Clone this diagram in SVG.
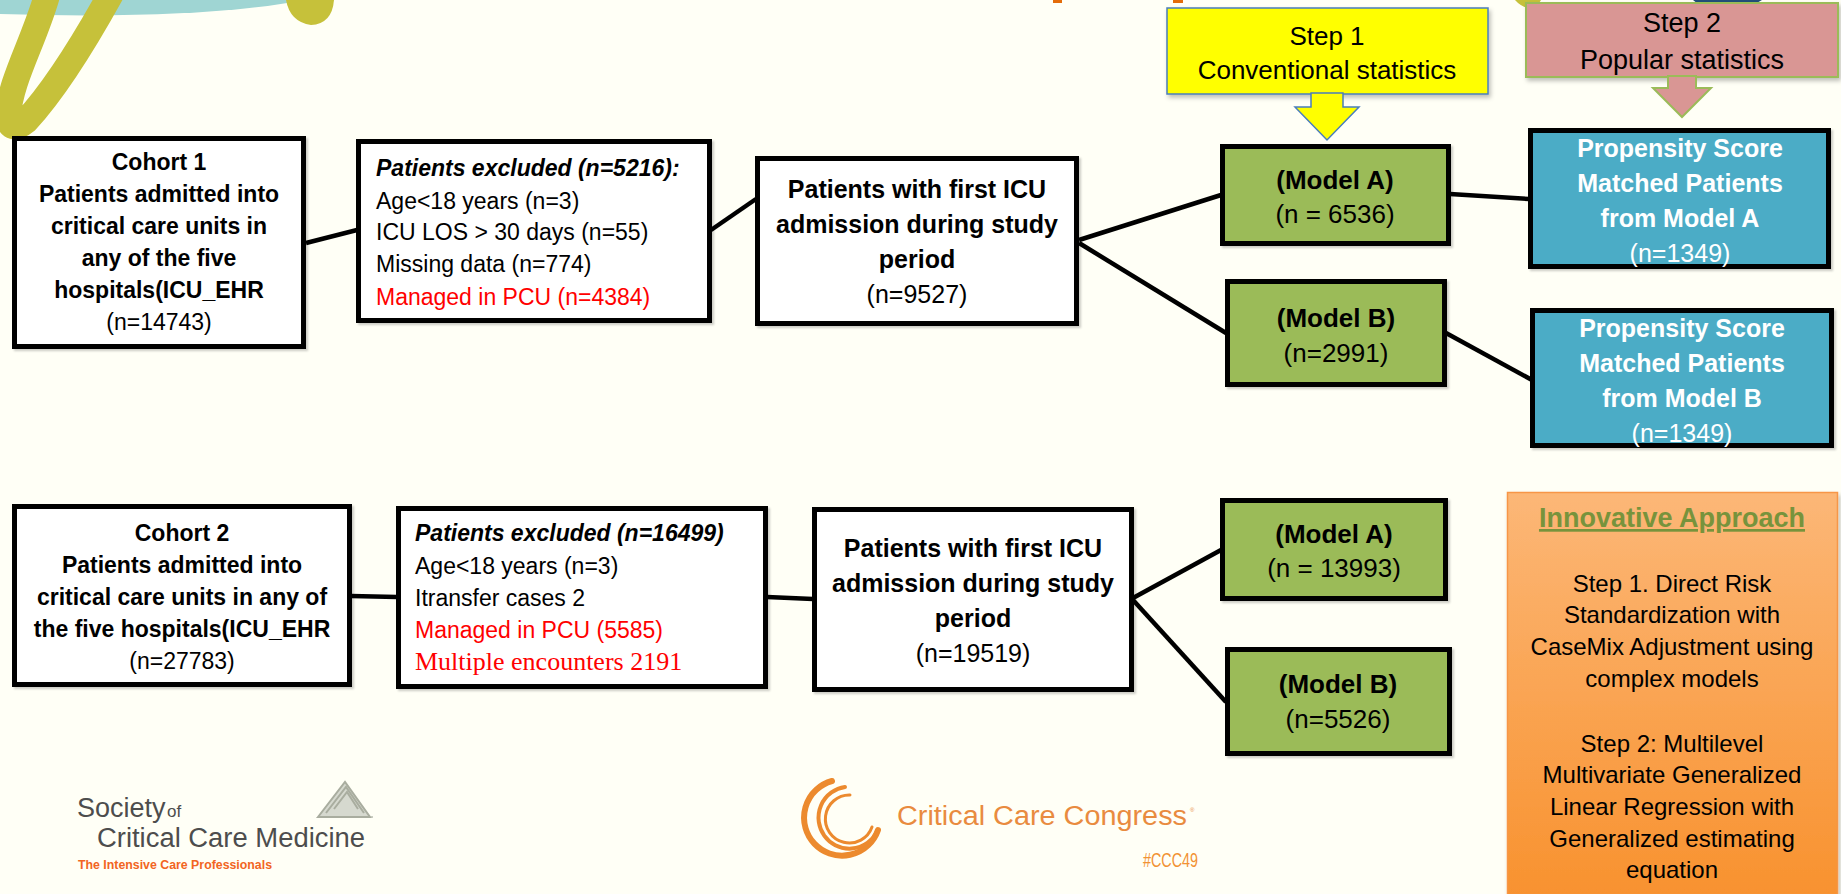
<svg xmlns="http://www.w3.org/2000/svg" width="1841" height="894" viewBox="0 0 1841 894">
<style>
text{font-family:"Liberation Sans",Arial,sans-serif;}
.box{fill:#ffffff;stroke:#000;stroke-width:5;}
.grn{fill:#9bbb59;stroke:#000;stroke-width:5;}
.blu{fill:#4bacc6;stroke:#000;stroke-width:5;}
.conn{stroke:#000;stroke-width:4.5;fill:none;stroke-linecap:butt;}
.b{font-weight:bold;}
.t23{font-size:23px;}
.t25{font-size:25px;}
.t26{font-size:26px;}
.mid{text-anchor:middle;}
.red{fill:#ff0000;}
.wht{fill:#ffffff;}
.inn{font-size:24px;fill:#000;text-anchor:middle;}
</style>
<defs>
<linearGradient id="og" x1="0" y1="0" x2="0" y2="1">
<stop offset="0" stop-color="#fcb777"/>
<stop offset="1" stop-color="#f8922f"/>
</linearGradient>
<filter id="sh" x="-5%" y="-5%" width="115%" height="120%">
<feDropShadow dx="2" dy="3" stdDeviation="2" flood-color="#000" flood-opacity="0.25"/>
</filter>
<filter id="bs" x="-5%" y="-5%" width="115%" height="120%">
<feDropShadow dx="2" dy="2" stdDeviation="1" flood-color="#000" flood-opacity="0.2"/>
</filter>
</defs>
<rect width="1841" height="894" fill="#fffff6"/>
<g id="decor">
<path d="M0 0 L305 0 Q 200 20 0 14 Z" fill="#9fd5d3"/>
<path d="M48 -8 C 35 40 10 80 8 116 Q 10 134 26 121 C 50 95 80 50 112 -8" fill="none" stroke="#c6c13a" stroke-width="26" stroke-linecap="round" stroke-linejoin="round"/>
<path d="M286 0 Q 290 22 311 25 Q 332 24 334 0 Z" fill="#c6c13a"/>
<rect x="1053" y="0" width="9" height="3" fill="#e46c0a"/>
<rect x="1173" y="0" width="10" height="3" fill="#e46c0a"/>
<path d="M1515 0 L1541 0 L1536 8 Q1524 10 1515 0 Z" fill="#c6c13a"/>
<path d="M1693 0 L1762 0 L1755 4 L1698 4 Z" fill="#1f4e79"/>
</g>
<g id="connectors">
<line class="conn" x1="306" y1="243" x2="357" y2="230"/>
<line class="conn" x1="711" y1="230" x2="756" y2="199"/>
<line class="conn" x1="1079" y1="240" x2="1221" y2="195"/>
<line class="conn" x1="1079" y1="243" x2="1226" y2="333"/>
<line class="conn" x1="1450" y1="194" x2="1529" y2="199"/>
<line class="conn" x1="1446" y1="333" x2="1532" y2="380"/>
<line class="conn" x1="351" y1="596" x2="397" y2="597"/>
<line class="conn" x1="767" y1="597" x2="813" y2="599"/>
<line class="conn" x1="1133" y1="598" x2="1221" y2="550"/>
<line class="conn" x1="1133" y1="600" x2="1226" y2="702"/>
</g>
<g id="step1">
<rect x="1167" y="8" width="321" height="86" fill="#ffff00" stroke="#4a7ebb" stroke-width="1.5" filter="url(#sh)"/>
<polygon points="1311,93 1343,93 1343,107 1359,107 1327,140 1295,107 1311,107" fill="#ffff00" stroke="#4a7ebb" stroke-width="1.5"/>
<text x="1327" y="45" class="mid" font-size="26">Step 1</text>
<text x="1327" y="79" class="mid" font-size="26">Conventional statistics</text>
</g>
<g id="step2">
<rect x="1526" y="3" width="312" height="74" fill="#d99694" stroke="#9bbb59" stroke-width="2" filter="url(#sh)"/>
<polygon points="1668,76 1696,76 1696,88 1711,88 1682,117 1653,88 1668,88" fill="#d99694" stroke="#9bbb59" stroke-width="2"/>
<text x="1682" y="32" class="mid" font-size="27">Step 2</text>
<text x="1682" y="69" class="mid" font-size="27">Popular statistics</text>
</g>
<g id="cohort1">
<rect class="box" filter="url(#bs)" x="14.5" y="138.5" width="289" height="208"/>
<text class="mid b t23" x="159" y="170">Cohort 1</text>
<text class="mid b t23" x="159" y="202">Patients admitted into</text>
<text class="mid b t23" x="159" y="234">critical care units in</text>
<text class="mid b t23" x="159" y="266">any of the five</text>
<text class="mid b t23" x="159" y="298">hospitals(ICU_EHR</text>
<text class="mid t23" x="159" y="330">(n=14743)</text>
</g>
<g id="excluded1">
<rect class="box" filter="url(#bs)" x="358.5" y="141.5" width="351" height="179"/>
<text class="b t23" font-style="italic" x="376" y="176">Patients excluded (n=5216):</text>
<text class="t23" x="376" y="209">Age&lt;18 years (n=3)</text>
<text class="t23" x="376" y="240">ICU LOS &gt; 30 days (n=55)</text>
<text class="t23" x="376" y="272">Missing data (n=774)</text>
<text class="t23 red" x="376" y="305">Managed in PCU (n=4384)</text>
</g>
<g id="icu1">
<rect class="box" filter="url(#bs)" x="757.5" y="158.5" width="319" height="165"/>
<text class="mid b t25" x="917" y="198">Patients with first ICU</text>
<text class="mid b t25" x="917" y="233">admission during study</text>
<text class="mid b t25" x="917" y="268">period</text>
<text class="mid t25" x="917" y="303">(n=9527)</text>
</g>
<g id="modelA1">
<rect class="grn" filter="url(#bs)" x="1222.5" y="146.5" width="226" height="97"/>
<text class="mid b t26" x="1335" y="189">(Model A)</text>
<text class="mid t26" x="1335" y="223">(n = 6536)</text>
</g>
<g id="modelB1">
<rect class="grn" filter="url(#bs)" x="1227.5" y="281.5" width="217" height="103"/>
<text class="mid b t26" x="1336" y="327">(Model B)</text>
<text class="mid t26" x="1336" y="362">(n=2991)</text>
</g>
<g id="psA">
<rect class="blu" filter="url(#bs)" x="1530.5" y="130.5" width="298" height="136"/>
<text class="mid b t25 wht" x="1680" y="157">Propensity Score</text>
<text class="mid b t25 wht" x="1680" y="192">Matched Patients</text>
<text class="mid b t25 wht" x="1680" y="227">from Model A</text>
<text class="mid t25 wht" x="1680" y="262">(n=1349)</text>
</g>
<g id="psB">
<rect class="blu" filter="url(#bs)" x="1532.5" y="310.5" width="299" height="135"/>
<text class="mid b t25 wht" x="1682" y="337">Propensity Score</text>
<text class="mid b t25 wht" x="1682" y="372">Matched Patients</text>
<text class="mid b t25 wht" x="1682" y="407">from Model B</text>
<text class="mid t25 wht" x="1682" y="442">(n=1349)</text>
</g>
<g id="cohort2">
<rect class="box" filter="url(#bs)" x="14.5" y="506.5" width="335" height="178"/>
<text class="mid b t23" x="182" y="541">Cohort 2</text>
<text class="mid b t23" x="182" y="573">Patients admitted into</text>
<text class="mid b t23" x="182" y="605">critical care units in any of</text>
<text class="mid b t23" x="182" y="637">the five hospitals(ICU_EHR</text>
<text class="mid t23" x="182" y="669">(n=27783)</text>
</g>
<g id="excluded2">
<rect class="box" filter="url(#bs)" x="398.5" y="508.5" width="367" height="178"/>
<text class="b t23" font-style="italic" x="415" y="541">Patients excluded (n=16499)</text>
<text class="t23" x="415" y="574">Age&lt;18 years (n=3)</text>
<text class="t23" x="415" y="606">Itransfer cases 2</text>
<text class="t23 red" x="415" y="638">Managed in PCU (5585)</text>
<text class="red" x="415" y="670" font-size="26" style="font-family:'Liberation Serif','Times New Roman',serif">Multiple encounters 2191</text>
</g>
<g id="icu2">
<rect class="box" filter="url(#bs)" x="814.5" y="509.5" width="317" height="180"/>
<text class="mid b t25" x="973" y="557">Patients with first ICU</text>
<text class="mid b t25" x="973" y="592">admission during study</text>
<text class="mid b t25" x="973" y="627">period</text>
<text class="mid t25" x="973" y="662">(n=19519)</text>
</g>
<g id="modelA2">
<rect class="grn" filter="url(#bs)" x="1222.5" y="500.5" width="223" height="98"/>
<text class="mid b t26" x="1334" y="543">(Model A)</text>
<text class="mid t26" x="1334" y="577">(n = 13993)</text>
</g>
<g id="modelB2">
<rect class="grn" filter="url(#bs)" x="1227.5" y="649.5" width="222" height="104"/>
<text class="mid b t26" x="1338" y="693">(Model B)</text>
<text class="mid t26" x="1338" y="728">(n=5526)</text>
</g>
<g id="innovative">
<rect x="1507.5" y="492.5" width="330" height="402" fill="url(#og)" stroke="#f79646" stroke-width="1.5" filter="url(#sh)"/>
<text x="1672" y="527" class="mid b" font-size="27" fill="#77933c" text-decoration="underline">Innovative Approach</text>
<text class="inn" x="1672" y="592">Step 1. Direct Risk</text>
<text class="inn" x="1672" y="623">Standardization with</text>
<text class="inn" x="1672" y="655">CaseMix Adjustment using</text>
<text class="inn" x="1672" y="687">complex models</text>
<text class="inn" x="1672" y="752">Step 2: Multilevel</text>
<text class="inn" x="1672" y="783">Multivariate Generalized</text>
<text class="inn" x="1672" y="815">Linear Regression with</text>
<text class="inn" x="1672" y="847">Generalized estimating</text>
<text class="inn" x="1672" y="878">equation</text>
</g>
<g id="sccm-logo">
<path d="M318 817 L345 782 L370 817 Z" fill="#d6d9cf"/>
<g fill="none" stroke="#a9ad9f" stroke-width="2">
<path d="M318 817 L345 782 L370 817 Z"/>
<path d="M326 813 L346 787 L364 813"/>
<path d="M334 809 L347 792 L358 809"/>
</g>
<circle cx="372" cy="817" r="1" fill="#b8bcb0"/>
<text x="77" y="817" font-size="27" fill="#4d4d4d">Society</text>
<text x="167" y="817" font-size="17" fill="#4d4d4d">of</text>
<text x="97" y="847" font-size="27" fill="#4d4d4d" textLength="268" lengthAdjust="spacingAndGlyphs">Critical Care Medicine</text>
<text x="78" y="869" font-size="12" font-weight="bold" fill="#f26522" textLength="194" lengthAdjust="spacingAndGlyphs">The Intensive Care Professionals</text>
</g>
<g id="ccc-logo">
<g fill="none" stroke="#ec8a2e" stroke-linecap="round">
<path d="M832 781 A 38 38 0 1 0 878 830" stroke-width="6"/>
<path d="M845 787 A 31 31 0 1 0 877 832" stroke-width="4"/>
<path d="M850 795 A 24 24 0 1 0 872 827" stroke-width="3"/>
</g>
<text x="897" y="825" font-size="27" fill="#e98b3f" textLength="290" lengthAdjust="spacingAndGlyphs">Critical Care Congress</text>
<text x="1190" y="812" font-size="6" fill="#e98b3f">®</text>
<text x="1143" y="867" font-size="20" fill="#f29233" textLength="55" lengthAdjust="spacingAndGlyphs">#CCC49</text>
</g>
</svg>
